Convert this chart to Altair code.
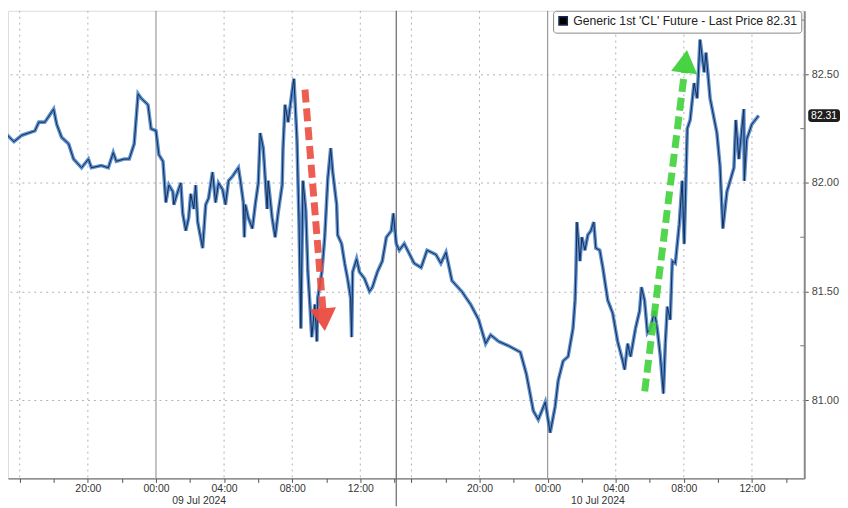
import altair as alt
import pandas as pd

# ---- price series: trading hours from 00:00 09 Jul (maintenance break removed) ----
t_a = [-9.04,-8.86,-8.34,-7.87,-7.11,-6.88,-6.53,-6.01,-5.83,-5.54,-5.13,-4.84,-4.37,
       -3.97,-3.79,-3.21,-2.80,-2.51,-2.33,-1.87,-1.57,-1.28,-1.05,-0.87,-0.47,-0.29]
p_a = [82.26,82.23,82.19,82.22,82.24,82.28,82.28,82.34,82.27,82.21,82.18,82.11,82.07,
       82.11,82.07,82.08,82.07,82.14,82.10,82.11,82.11,82.18,82.41,82.39,82.36,82.25]
t_b = [0.00,0.17,0.41,0.58,0.76,0.99,1.05,1.28,1.46,1.57,1.75,1.92,2.04,2.22,2.33,2.45,
       2.62,2.74,2.92,3.09,3.32,3.50,3.67,3.91,4.08,4.26,4.49,4.66,4.84,4.96,5.13,5.19,
       5.25,5.42,5.66,5.83,6.01,6.12,6.30,6.53,6.59,6.82,7.00,7.17,7.41,7.46,7.58,7.76,7.99]
p_b = [82.24,82.13,82.10,81.91,81.99,81.96,81.90,81.96,82.00,81.86,81.78,81.84,81.95,81.88,81.99,81.82,
       81.75,81.70,81.90,81.93,82.05,81.91,82.00,81.97,81.90,82.01,82.03,82.05,82.07,82.01,81.91,81.75,
       81.90,81.84,81.79,81.90,82.00,82.23,82.16,81.88,82.01,81.84,81.75,81.86,81.99,82.16,82.36,82.28,82.42]
t_c = [8.10,8.28,8.40,8.51,8.63,8.80,8.92,9.04,9.15,9.33,9.45,9.50,9.74,9.91,10.09,10.26,
       10.38,10.61,10.67,10.90,11.08,11.25,11.43,11.49,11.55,11.78,11.95,12.24,12.54,12.71,
       13.00,13.29,13.53,13.82,13.94,14.11]
p_c = [82.48,82.20,81.82,81.33,82.01,81.87,81.59,81.44,81.29,81.44,81.27,81.47,81.59,81.75,82.02,82.16,
       82.05,81.90,81.76,81.72,81.63,81.56,81.47,81.29,81.59,81.65,81.59,81.56,81.50,81.52,
       81.59,81.64,81.75,81.78,81.86,81.72]
t_d = [14.29,14.58,15.16,15.57,15.92,16.44,16.73,17.03,17.38,17.96,18.48,18.95,19.36,19.65,20.12,
       20.70,21.40,21.75,22.16,22.45,22.86,23.15,23.44]
p_d = [81.69,81.72,81.63,81.61,81.69,81.67,81.63,81.68,81.55,81.50,81.44,81.37,81.26,81.30,81.27,
       81.25,81.22,81.12,80.95,80.91,80.99,80.85,80.97]
t_e = [23.62,23.91,24.20,24.49,24.61,24.66,24.72,24.90,25.01,25.19,25.36,25.54,25.71,25.83,
       26.06,26.24,26.53,26.82,27.11,27.41,27.52,27.70,27.87,28.16,28.40,28.51,28.69,28.86,
       29.04,29.27,29.45,29.62,29.80,29.91,30.03,30.20,30.32,30.50,30.73,30.90]
p_e = [81.09,81.18,81.20,81.33,81.46,81.58,81.82,81.64,81.75,81.69,81.76,81.78,81.82,81.70,
       81.69,81.61,81.46,81.40,81.27,81.18,81.14,81.26,81.20,81.33,81.41,81.52,81.46,81.31,
       81.33,81.41,81.32,81.20,81.03,81.26,81.43,81.37,81.64,81.63,81.81,82.01]
t_f = [31.02,31.20,31.37,31.60,31.78,31.95,32.19,32.30,32.54,32.94,33.12,33.29,33.53,33.94,
       34.05,34.23,34.52,34.55,34.69,34.99,35.39]
p_f = [81.72,82.25,82.29,82.46,82.39,82.66,82.51,82.60,82.39,82.23,82.08,81.79,81.96,82.07,
       82.29,82.11,82.34,82.01,82.20,82.27,82.31]

series_name = "Generic 1st 'CL' Future - Last Price 82.31"
last_price = 82.31

# ---- axes ----
tick_t = [-8,-6,-4,-2,0,2,4,6,8,10,12,14,15,17,19,21,23,25,27,29,31,33,35,37]
label_t = [-4,0,4,8,12,19,23,27,31,35]
label_txt = ["20:00","00:00","04:00","08:00","12:00","20:00","00:00","04:00","08:00","12:00"]
grid_dashed_t = [-8,-4,4,8,12,15,19,27,31,35]
grid_solid_t = [0,23]
session_break_t = [14.11]
session_names = ["09 Jul 2024","10 Jul 2024"]
session_mid_t = [2.54, 25.95]
y_ticks = [81.0, 81.5, 82.0, 82.5]
y_minor = [81.25, 81.75, 82.25, 82.75]
x_domain = [-8.69, 38.07]
y_domain = [80.639, 82.793]

# ---- arrows ----
arrow_t0 = [8.75, 28.70]
arrow_p0 = [82.43, 81.04]
arrow_t1 = [9.80, 31.05]
arrow_p1 = [81.42, 82.52]
head_t = [9.86, 31.10]
head_p = [81.37, 82.56]
arrow_colors = ["#ec4b3f", "#3fd13a"]
head_angles = [175, 7]

W, H = 802, 471
FONT = "Liberation Sans"

t_all = t_a + t_b + t_c + t_d + t_e + t_f
p_all = p_a + p_b + p_c + p_d + p_e + p_f
df = pd.DataFrame({"t": t_all, "price": p_all, "series": series_name})

label_expr = " ".join(f"datum.value == {v} ? '{s}' :" for v, s in zip(label_t, label_txt)) + " ''"

xs = alt.Scale(domain=x_domain, nice=False, zero=False)
ys = alt.Scale(domain=y_domain, nice=False, zero=False)

x_axis = alt.Axis(values=tick_t, labelExpr=label_expr, grid=False, title=None,
                  tickSize=4, labelFlush=False, labelOverlap=False,
                  domainColor="#555", tickColor="#555", labelColor="#333",
                  labelFontSize=10.5, labelFont=FONT, labelPadding=1)
y_axis = alt.Axis(orient="right", values=y_ticks, format=".2f", title=None,
                  grid=True, gridDash=[2, 4], gridColor="#b0b0b0", gridWidth=1,
                  tickSize=4, domainColor="#8a8a8a", domainWidth=2, tickColor="#555",
                  labelColor="#444", labelFontSize=11, labelFont=FONT, labelPadding=3)


def X(field):
    return alt.X(field, scale=xs, axis=x_axis)


def Y(field):
    return alt.Y(field, scale=ys, axis=y_axis)


vgrid = alt.Chart(pd.DataFrame({"t": grid_dashed_t})).mark_rule(
    color="#b0b0b0", strokeDash=[2, 4], strokeWidth=1).encode(x=X("t:Q"))
vsolid = alt.Chart(pd.DataFrame({"t": grid_solid_t})).mark_rule(
    color="#9a9a9a", strokeWidth=1.2).encode(x=X("t:Q"))
vsep = alt.Chart(pd.DataFrame({"t": session_break_t})).mark_rule(
    color="#666", strokeWidth=1.2, clip=False).encode(
    x=X("t:Q"), y=alt.value(0), y2=alt.value(H + 28))
yminor = alt.Chart(pd.DataFrame({"p": y_minor})).mark_rule(
    color="#777", strokeWidth=1).encode(
    y=Y("p:Q"), x=alt.value(W - 4), x2=alt.value(W))

line_blue = alt.Chart(df).mark_line(color="#3f7cc8", strokeWidth=3.6, opacity=0.85,
                                    clip=True, strokeJoin="miter").encode(
    x=X("t:Q"), y=Y("price:Q"))
line_dark = alt.Chart(df).mark_line(strokeWidth=1.0, clip=True).encode(
    x=X("t:Q"), y=Y("price:Q"),
    color=alt.Color("series:N", scale=alt.Scale(range=["#172a4d"]),
                    legend=alt.Legend(title=None, orient="none", legendX=549, legendY=0,
                                      symbolType="square", symbolFillColor="#000",
                                      symbolStrokeColor="#000", symbolSize=70,
                                      labelFontSize=12.3, labelFont=FONT, labelColor="#222",
                                      strokeColor="#888", fillColor="white",
                                      padding=4, cornerRadius=3, labelLimit=400)))

layers = [vgrid, vsolid, vsep, yminor, line_blue, line_dark]

for i in range(2):
    a_df = pd.DataFrame({"t0": [arrow_t0[i]], "p0": [arrow_p0[i]],
                         "t1": [arrow_t1[i]], "p1": [arrow_p1[i]]})
    shaft = alt.Chart(a_df).mark_rule(color=arrow_colors[i], strokeWidth=7,
                                      strokeDash=[13, 6], opacity=0.9).encode(
        x=X("t0:Q"), x2="t1:Q", y=Y("p0:Q"), y2="p1:Q")
    h_df = pd.DataFrame({"t": [head_t[i]], "p": [head_p[i]]})
    head = alt.Chart(h_df).mark_point(shape="triangle-up", filled=True, size=700,
                                      color=arrow_colors[i], opacity=0.95,
                                      angle=head_angles[i]).encode(
        x=X("t:Q"), y=Y("p:Q"))
    layers += [shaft, head]

sess = alt.Chart(pd.DataFrame({"t": session_mid_t, "name": session_names})).mark_text(
    fontSize=10.5, font=FONT, color="#333", clip=False, baseline="middle").encode(
    x=X("t:Q"), y=alt.value(H + 23), text="name:N")

lp_df = pd.DataFrame({"hi": [last_price + 0.029], "lo": [last_price - 0.029],
                      "p": [last_price], "txt": [f"{last_price:.2f}"]})
lp_box = alt.Chart(lp_df).mark_rect(color="#1e1e1e", clip=False, cornerRadius=3).encode(
    x=alt.value(W + 4), x2=alt.value(W + 36), y=Y("hi:Q"), y2="lo:Q")
lp_txt = alt.Chart(lp_df).mark_text(color="white", fontSize=10.5, font=FONT, clip=False).encode(
    x=alt.value(W + 20), y=Y("p:Q"), text="txt:N")

layers += [sess, lp_box, lp_txt]

chart = alt.layer(*layers).properties(width=W, height=H, padding=0).configure_view(
    stroke=None).configure(background="white")

chart.save("out.html", embed_options={"renderer": "svg", "actions": False})
